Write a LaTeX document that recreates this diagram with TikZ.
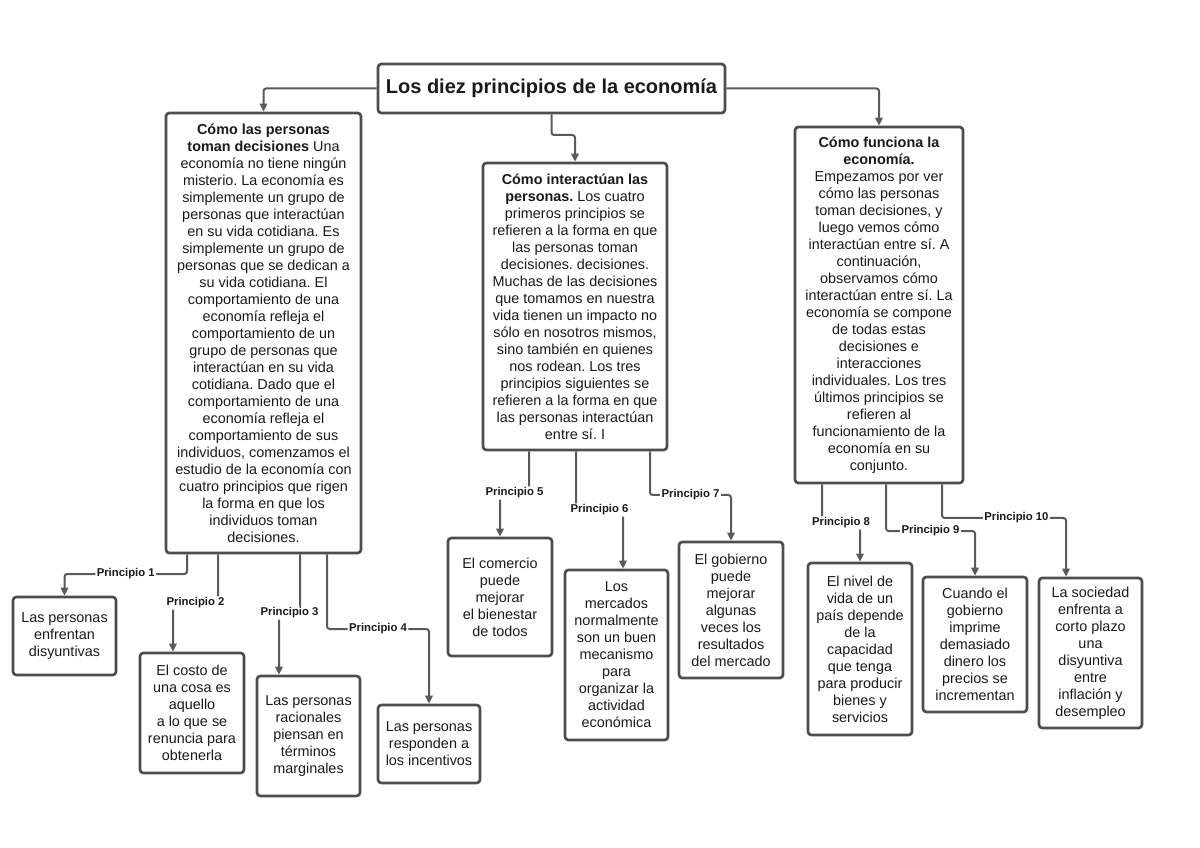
\documentclass[tikz,border=0pt]{standalone}
\usepackage{fontspec}
\setmainfont{Liberation Sans}
\usetikzlibrary{arrows.meta}
\definecolor{edgec}{HTML}{595959}
\definecolor{boxc}{HTML}{4D4D4D}
\definecolor{txtc}{HTML}{1A1A1A}
\frenchspacing
\begin{document}
\begin{tikzpicture}[x=0.75pt,y=-0.75pt,
 box/.style={draw=boxc, line width=2pt, rounded corners=2.5pt, align=center, text=txtc, font=\fontsize{10.8}{12.75}\selectfont, inner sep=2pt},
 conn/.style={draw=edgec, line width=1.5pt, rounded corners=2pt, -{Triangle[width=5.5pt,length=6pt]}},
 lbl/.style={fill=white, text=txtc, font=\bfseries\fontsize{8.5}{10}\selectfont, inner sep=1pt}]
\fill[white] (0,0) rectangle (1200,848);

\node[box, font=\bfseries\fontsize{15}{18}\selectfont, minimum width=260.25pt, minimum height=36.75pt] (T) at (551.5,88.5) {Los diez principios de la economía};

\node[box, minimum width=146.25pt, minimum height=330pt] (L) at (263.5,333) {\textbf{Cómo las personas}\\ \textbf{toman decisiones} Una\\ economía no tiene ningún\\ misterio. La economía es\\ simplemente un grupo de\\ personas que interactúan\\ en su vida cotidiana. Es\\ simplemente un grupo de\\ personas que se dedican a\\ su vida cotidiana. El\\ comportamiento de una\\ economía refleja el\\ comportamiento de un\\ grupo de personas que\\ interactúan en su vida\\ cotidiana. Dado que el\\ comportamiento de una\\ economía refleja el\\ comportamiento de sus\\ individuos, comenzamos el\\ estudio de la economía con\\ cuatro principios que rigen\\ la forma en que los\\ individuos toman\\ decisiones.};

\node[box, minimum width=138pt, minimum height=215.25pt] (M) at (575,306.5) {\textbf{Cómo interactúan las}\\ \textbf{personas.} Los cuatro\\ primeros principios se\\ refieren a la forma en que\\ las personas toman\\ decisiones. decisiones.\\ Muchas de las decisiones\\ que tomamos en nuestra\\ vida tienen un impacto no\\ sólo en nosotros mismos,\\ sino también en quienes\\ nos rodean. Los tres\\ principios siguientes se\\ refieren a la forma en que\\ las personas interactúan\\ entre sí. I};

\node[box, minimum width=126pt, minimum height=267pt] (R) at (879,305) {\textbf{Cómo funciona la}\\ \textbf{economía.}\\ Empezamos por ver\\ cómo las personas\\ toman decisiones, y\\ luego vemos cómo\\ interactúan entre sí. A\\ continuación,\\ observamos cómo\\ interactúan entre sí. La\\ economía se compone\\ de todas estas\\ decisiones e\\ interacciones\\ individuales. Los tres\\ últimos principios se\\ refieren al\\ funcionamiento de la\\ economía en su\\ conjunto.};

\node[box, minimum width=77.25pt, minimum height=58.5pt] (B1) at (64.5,636) {Las personas\\ enfrentan\\ disyuntivas};
\node[box, minimum width=78pt, minimum height=90pt] (B2) at (192,713) {El costo de\\ una cosa es\\ aquello\\ a lo que se\\ renuncia para\\ obtenerla};
\node[box, minimum width=77.25pt, minimum height=90pt] (B3) at (308.5,736) {Las personas\\ racionales\\ piensan en\\ términos\\ marginales};
\node[box, minimum width=76.5pt, minimum height=58.5pt] (B4) at (429,744) {Las personas\\ responden a\\ los incentivos};
\node[box, minimum width=78pt, minimum height=88.5pt] (B5) at (500,597) {El comercio\\ puede\\ mejorar\\ el bienestar\\ de todos};
\node[box, minimum width=77.25pt, minimum height=127.5pt] (B6) at (616.5,655) {Los\\ mercados\\ normalmente\\ son un buen\\ mecanismo\\ para\\ organizar la\\ actividad\\ económica};
\node[box, minimum width=78pt, minimum height=102pt] (B7) at (731,610) {El gobierno\\ puede\\ mejorar\\ algunas\\ veces los\\ resultados\\ del mercado};
\node[box, minimum width=78pt, minimum height=129pt] (B8) at (860,649) {El nivel de\\ vida de un\\ país depende\\ de la\\ capacidad\\ que tenga\\ para producir\\ bienes y\\ servicios};
\node[box, minimum width=78pt, minimum height=101.25pt] (B9) at (975,644.5) {Cuando el\\ gobierno\\ imprime\\ demasiado\\ dinero los\\ precios se\\ incrementan};
\node[box, minimum width=77.25pt, minimum height=112.5pt] (B10) at (1090.5,653) {La sociedad\\ enfrenta a\\ corto plazo\\ una\\ disyuntiva\\ entre\\ inflación y\\ desempleo};

% top connectors
\coordinate (tm) at (0,135);
\draw[conn] (T.west) -| (L.north);
\draw[conn] (T.east) -| (R.north);
\draw[conn] (T.south) |- (M.north |- tm) -- (M.north);

% left principles
\coordinate (a1) at (187,574);
\draw[conn] (L.south -| a1) -- (a1) -- node[lbl]{Principio 1} (a1 -| B1.north) -- (B1.north);
\coordinate (a2) at (218,603); \coordinate (b2) at (173,603);
\draw[conn] (L.south -| a2) -- (a2) -- node[lbl]{Principio 2} (b2) -- (B2.north -| b2);
\coordinate (a3) at (300,613); \coordinate (b3) at (279,613);
\draw[conn] (L.south -| a3) -- (a3) -- node[lbl]{Principio 3} (b3) -- (B3.north -| b3);
\coordinate (a4) at (327,629);
\draw[conn] (L.south -| a4) -- (a4) -- node[lbl]{Principio 4} (a4 -| B4.north) -- (B4.north);

% middle principles
\coordinate (a5) at (529,493);
\draw[conn] (M.south -| a5) -- (a5) -- node[lbl]{Principio 5} (a5 -| B5.north) -- (B5.north);
\coordinate (a6) at (576,510); \coordinate (b6) at (623,510);
\draw[conn] (M.south -| a6) -- (a6) -- node[lbl]{Principio 6} (b6) -- (B6.north -| b6);
\coordinate (a7) at (650,495);
\draw[conn] (M.south -| a7) -- (a7) -- node[lbl]{Principio 7} (a7 -| B7.north) -- (B7.north);

% right principles
\coordinate (a8) at (822,523);
\draw[conn] (R.south -| a8) -- (a8) -- node[lbl]{Principio 8} (a8 -| B8.north) -- (B8.north);
\coordinate (a9) at (886,531);
\draw[conn] (R.south -| a9) -- (a9) -- node[lbl]{Principio 9} (a9 -| B9.north) -- (B9.north);
\coordinate (a10) at (942,518); \coordinate (b10) at (1066,518);
\draw[conn] (R.south -| a10) -- (a10) -- node[lbl, pos=0.6]{Principio 10} (b10) -- (B10.north -| b10);
\end{tikzpicture}
\end{document}
